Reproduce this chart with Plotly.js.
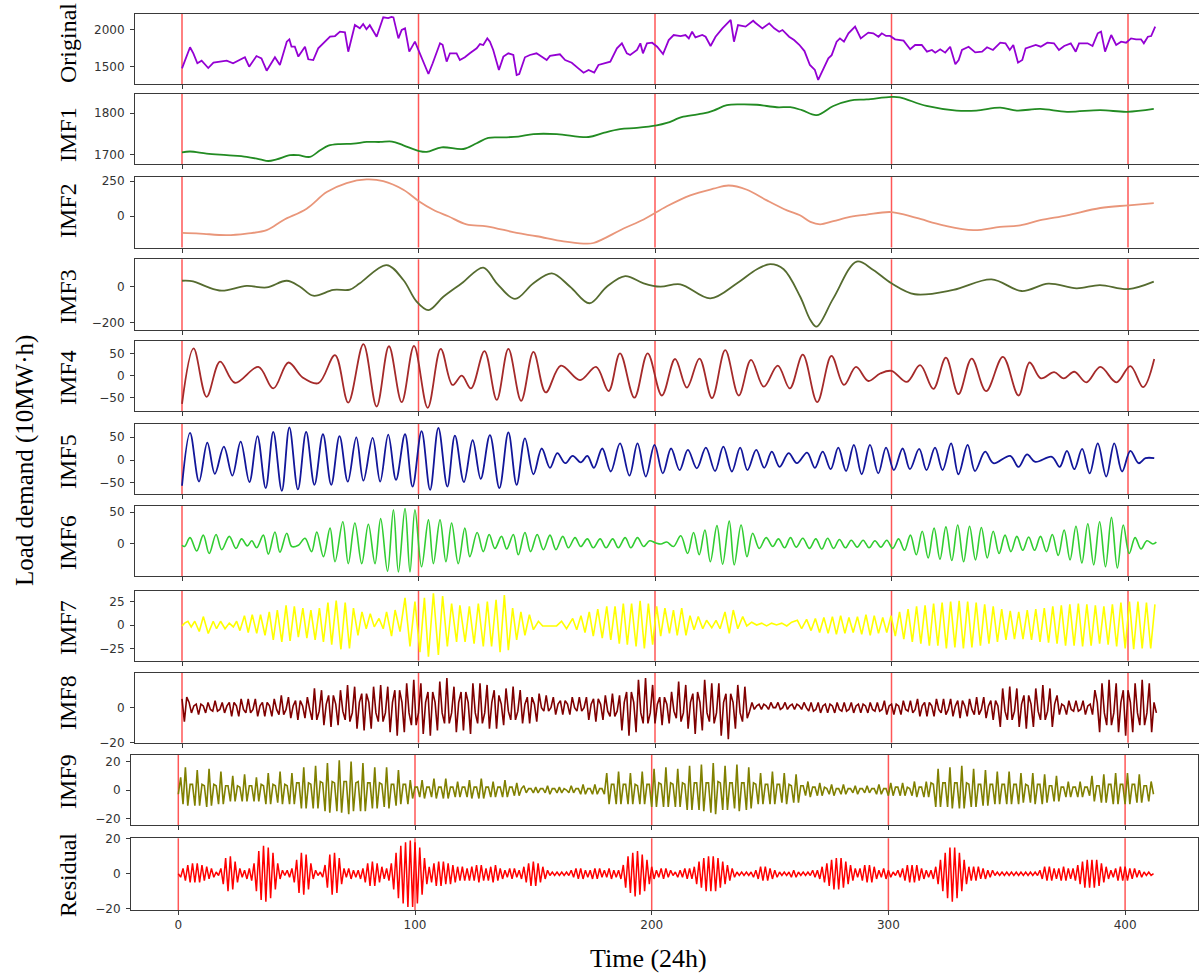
<!DOCTYPE html>
<html>
<head>
<meta charset="utf-8">
<script src="https://cdn.plot.ly/plotly-3.0.1.min.js"></script>
<style>html,body{margin:0;padding:0;background:#fff}#chart{width:1199px;height:974px}</style>
</head>
<body>
<div id="chart"></div>
<script>
// ---------------- DATA ----------------
const origX = [0,3.4,4.8,6.5,8.3,11.1,13.3,16.1,18.9,21.6,24.5,26.6,28.4,31.5,33.6,35.8,39.3,41.4,44.3,45.4,46.3,47.7,49.2,52.0,53.4,55.5,57.6,60.5,62.6,64.7,66.8,68.9,70.3,73.1,75.2,76.6,78.0,79.4,82.3,85.1,87.2,88.6,89.4,91.5,92.9,94.3,96.1,98.5,99.9,102.0,104.2,106.0,109.1,110.2,111.9,113.3,116.1,117.5,119.6,121.7,124.6,126.0,127.4,129.1,130.2,131.6,134.0,135.9,138.0,140.1,141.5,142.6,145.0,147.1,149.9,152.0,154.2,155.6,159.8,162.0,164.8,167.6,169.8,171.9,174.3,176.1,178.2,181.1,183.9,186.0,188.1,189.5,192.4,193.8,194.9,196.6,198.8,200.9,203.4,205.8,207.9,210.8,212.9,214.3,215.7,217.1,220.0,221.4,223.5,225.6,228.5,230.6,232.0,233.4,235.1,238.3,241.5,242.4,245.4,248.3,250.4,252.5,253.9,256.7,258.8,261.0,263.2,265.5,267.6,269.0,271.2,273.3,274.7,276.8,278.2,279.9,281.8,284.6,287.0,290.2,292.3,294.5,295.9,297.7,299.4,301.5,305.1,307.9,310.0,312.8,315.0,317.1,318.5,320.6,322.7,324.8,327.0,328.4,329.8,332.6,335.4,338.3,340.4,342.9,346.0,348.2,350.0,351.5,353.5,355.3,356.7,358.8,361.0,363.1,365.9,368.7,370.8,373.0,375.8,377.9,379.3,382.9,385.0,387.2,388.6,390.3,392.9,395.0,397.1,399.2,401.3,403.4,405.5,406.7,408.4,409.8,411.5];
const origY = [1482,1766,1685,1550,1585,1486,1558,1572,1585,1550,1594,1631,1504,1648,1617,1450,1631,1527,1842,1874,1774,1774,1640,1774,1604,1594,1752,1842,1909,1918,1977,1968,1707,2067,2022,2080,2010,2065,1909,2171,2160,2176,2170,1887,2000,2022,1707,1842,1730,1572,1405,1550,1820,1800,1572,1685,1685,1594,1631,1685,1752,1810,1797,1887,1842,1730,1460,1640,1685,1662,1392,1405,1631,1662,1685,1640,1594,1650,1671,1594,1558,1482,1423,1460,1423,1527,1550,1572,1752,1820,1685,1662,1730,1820,1685,1820,1828,1774,1675,1864,1932,1918,1932,1887,1977,1900,1932,1909,1784,1909,2022,2090,2135,1842,2067,2045,2125,2098,2022,2090,2022,1977,2000,1909,1864,1800,1715,1527,1460,1325,1482,1617,1660,1842,1887,1842,1955,2045,1887,1964,1955,1909,1955,1920,1920,1874,1856,1739,1797,1797,1707,1730,1694,1739,1694,1774,1536,1594,1730,1774,1698,1707,1766,1730,1828,1820,1730,1797,1558,1594,1752,1774,1797,1774,1828,1820,1730,1784,1820,1707,1820,1820,1784,1955,1977,1707,1932,1797,1842,1828,1887,1874,1874,1820,1909,1918,2045];

const imf1X = [0,3.4,10.4,18.9,27.3,33.0,36.5,40.0,45.7,49.2,54.1,58.4,61.9,66.8,72.5,78.2,83.8,88.8,93.6,100.3,103.5,109.8,119.0,124.6,129.5,135.9,142.2,148.6,158.5,171.9,178.2,185.2,192.3,200.7,205.0,212.0,220.5,224.7,230.4,236.0,243.1,251.5,257.2,262.1,268.3,275.4,282.4,289.5,300.0,303.5,314.8,327.5,335.9,346.0,353.0,362.9,374.2,388.3,399.6,410.9];
const imf1Y = [1705,1707,1702,1698,1694,1688,1684,1688,1698,1698,1694,1710,1721,1725,1726,1730,1730,1731,1722,1708,1706,1717,1713,1727,1740,1741,1743,1749,1749,1742,1752,1761,1764,1770,1776,1791,1799,1806,1819,1821,1820,1814,1814,1807,1795,1817,1830,1833,1839,1838,1817,1806,1806,1813,1806,1810,1803,1807,1803,1810];

const imf2X = [0,7.5,18.9,27.3,35.8,42.8,52.7,61.2,69.6,78.0,85.1,93.6,100.3,106.2,112.6,120.3,128.8,141.5,150.0,161.3,169.8,174.0,186.7,195.2,205.0,214.9,224.7,231.1,238.9,247.3,255.8,261.3,265.7,269.8,275.4,282.4,289.5,300.0,310.6,321.9,334.6,345.9,354.4,362.9,374.2,388.3,400.3,410.9];
const imf2Y = [-118,-123,-134,-123,-99,-28,54,172,236,262,250,189,106,47,0,-57,-71,-118,-142,-179,-194,-190,-87,-23,71,149,196,219,189,113,42,7,-40,-57,-35,-5,12,30,-12,-64,-99,-76,-64,-28,7,59,78,94];

const imf3X = [0,4.7,10.4,16.8,27.3,35.8,44.3,49.9,55.5,64.0,71.0,75.2,86.5,93.6,99.2,104.2,110.5,118.3,127.4,133.1,140.8,148.6,156.4,164.1,172.3,179.6,187.4,195.2,202.2,210.7,223.4,234.7,243.1,248.8,254.4,261.4,265.7,268.3,275.4,285.3,292.3,300.0,309.9,326.1,342.3,355.0,366.3,378.3,388.1,400.1,410.9];
const imf3Y = [33,30,0,-22,4,-4,33,0,-50,-18,-16,19,120,37,-83,-130,-56,19,106,19,-68,19,74,0,-92,0,59,19,0,13,-65,19,97,125,97,-56,-185,-222,-65,139,93,19,-42,-18,41,-24,17,-9,9,-13,28];

const imf4X = [0,4.9,10.4,16.1,22.4,32.3,38.6,45.0,51.0,57.7,64.7,70.3,76.7,82.3,87.5,92.9,98.1,103.9,109.4,114.4,118.3,122.2,127.9,133.1,138.0,143.4,148.6,153.8,160.2,168.3,175.1,180.4,185.2,191.3,196.9,202.9,208.5,213.5,218.8,224.1,229.7,235.4,240.6,246.0,251.9,257.0,262.5,268.6,274.6,279.9,285.0,290.2,295.2,300.0,306.5,312.1,317.7,323.0,328.3,333.9,340.0,347.1,353.7,358.4,363.2,368.8,372.8,377.3,382.4,388.3,395.1,401.0,406.4,411.1];
const imf4Y = [-64,62,-48,32,-16,20,-29,30,-4,-17,47,-61,72,-70,67,-60,68,-73,61,-21,0,-29,56,-55,61,-57,54,-38,23,-10,20,-35,51,-50,51,-45,38,-27,39,-51,58,-45,36,-25,23,-29,48,-60,45,-21,20,-12,5,11,-14,24,-30,41,-42,39,-35,43,-45,30,-6,8,-6,9,-15,20,-15,22,-26,38];

const imf5X = [0,3.4,7.2,10.7,13.9,17.7,21.3,24.8,28.5,31.9,35.4,38.6,42.2,45.4,49.0,52.5,56.0,59.6,63.1,66.6,70.1,73.7,76.7,80.6,83.8,87.2,90.5,94.3,97.5,101.3,104.9,108.4,112.2,115.4,119.2,122.9,126.3,130.2,134.2,138.0,141.5,145.0,148.6,152.1,155.6,158.7,162.0,165.2,168.6,171.4,174.2,177.7,181.3,185.2,189.2,192.6,196.1,199.8,203.3,206.8,210.4,213.9,217.7,221.5,225.4,228.9,232.5,236.0,239.1,242.8,246.2,249.4,252.7,256.5,260.0,264.3,267.6,270.9,274.3,277.5,280.8,284.1,287.4,290.9,294.4,297.7,301.0,304.7,307.8,311.7,314.8,318.4,321.6,325.2,328.3,332.2,335.3,339.6,343.1,350.2,353.7,357.3,360.8,367.8,371.1,374.2,377.3,380.6,383.8,387.2,390.8,394.2,397.5,401.0,404.5,407.4,411.1];
const imf5Y = [-56,59,-47,38,-30,29,-34,40,-48,52,-61,61,-67,71,-64,61,-54,56,-54,52,-47,49,-45,48,-47,55,-43,56,-58,63,-65,70,-58,53,-48,43,-41,54,-61,60,-54,47,-31,25,-17,15,-7,9,-5,9,-17,25,-25,36,-34,36,-36,33,-29,25,-22,22,-18,27,-24,29,-25,27,-22,22,-17,18,-15,15,-7,16,-17,18,-20,27,-24,33,-31,33,-29,27,-22,25,-20,24,-22,27,-22,36,-31,33,-24,18,-7,9,-15,12,-4,7,-15,20,-20,24,-29,36,-36,36,-25,20,-7,4,4];

const imf6X = [0,1.1,3.4,6.2,9.0,11.5,14.4,16.8,20.0,22.8,25.2,27.6,29.5,31.6,34.4,36.5,39.3,41.4,44.3,46.4,49.2,52.0,54.8,57.0,59.8,62.6,64.7,68.0,70.3,73.1,76.0,78.8,81.6,84.0,86.9,89.4,91.5,94.3,96.4,98.5,101.3,104.2,106.3,109.1,111.6,114.0,116.8,119.6,121.7,124.8,127.4,129.9,132.3,135.1,137.3,140.1,142.2,145.0,147.4,150.2,152.8,155.6,158.1,161.0,163.4,166.2,168.6,171.4,173.9,176.8,179.3,182.1,184.5,187.4,189.8,192.6,195.2,197.7,200.1,202.5,205.0,207.8,210.9,213.8,216.3,218.7,221.1,223.4,226.2,228.6,231.4,233.5,236.4,238.9,241.3,244.1,247.0,249.8,252.2,254.8,257.3,259.7,262.5,265.3,268,270.5,273,275.5,278,280.5,283,285.5,288,290.5,293,295.5,298,300.5,303,305.5,308,310.5,313,315.5,318,320.5,323,325.5,328,330.5,333,335.5,338,340.5,343,345.5,348,350.5,353,355.5,358,360.5,363,365.5,368,370.5,373,375.5,378,380.5,383,385.5,388,390.5,393,395.5,398,400.5,403,405.5,408,410.5,412];
const imf6Y = [-2,-4,10,-11,14,-15,15,-9,12,-7,8,-3,5,-6,14,-16,19,-13,17,-4,-2,9,-12,19,-20,25,-28,35,-31,33,-31,31,-31,40,-43,54,-44,56,-44,54,-36,38,-31,38,-28,33,-31,25,-20,18,-12,15,-7,12,-8,15,-17,18,-12,15,-9,14,-9,12,-6,10,-4,8,-6,8,-6,8,-6,10,-6,10,-4,5,2,0,3,-4,13,-15,18,-17,22,-28,29,-32,36,-33,30,-20,17,-7,10,-4,8,-6,10,-5,9,-7,8,-8,9,-7,7,-6,6,-5,6,-6,5,-5,6,-7,8,-10,14,-17,20,-22,25,-24,27,-26,30,-28,28,-25,26,-22,20,-15,14,-12,12,-10,11,-10,12,-12,15,-18,22,-25,28,-30,32,-33,35,-36,42,-38,30,-15,10,-8,5,0,3];

const imf7X = [0,1.1,2.5,3.9,5.4,7.3,9.0,11.1,13.2,14.6,16.3,18.2,20.0,21.7,23.1,24.5,26.4,28.0,29.7,31.6,33.2,35.1,36.9,38.6,40.3,42.2,44.0,45.7,47.5,49.2,51.1,52.8,54.5,56.3,58.1,59.8,61.7,63.3,65.2,67.2,69.0,70.8,72.5,74.4,76.1,77.9,79.6,81.3,83.3,85.1,86.5,88.6,90.1,92.2,94.3,96.4,98.5,100.6,102.5,104.2,106.3,108.4,110.2,112.2,114.0,116.1,117.5,119.7,121.5,123.5,125.3,127.4,129.1,130.9,132.8,134.5,136.3,138.0,139.8,141.5,143.3,145.0,146.9,148.6,150.7,152.5,158.4,160.5,162.6,165.2,166.9,168.7,170.4,172.2,173.9,175.8,177.7,179.6,181.3,183.1,184.9,186.6,188.3,190.1,192.0,193.7,195.5,197.2,199.0,200.7,202.4,204.2,206.1,207.8,209.4,211.3,213.1,214.8,216.5,218.3,220.2,221.8,224.0,225.8,227.5,229.6,231.4,233.1,235.0,237.1,238.8,240.9,243.0,245.1,247.2,249.3,251.4,253.6,255.7,257.8,260.2,262.0,264.1,266,267.8,269.6,271.4,273.2,275,276.7,278.5,280.3,282,283.8,285.6,287.4,289.2,291,292.7,294.5,296.3,298,299.8,301.6,303.4,305.2,307,308.8,310.6,312.4,314.2,316,317.8,319.6,321.4,323.2,325,326.8,328.6,330.4,332.2,334,335.8,337.6,339.4,341.2,343,344.8,346.6,348.4,350.2,352,353.8,355.6,357.4,359.2,361,362.8,364.6,366.4,368.2,370,371.8,373.6,375.4,377.2,379,380.8,382.6,384.4,386.2,388,389.8,391.6,393.4,395.2,397,398.8,400.6,402.4,404.2,406,407.8,409.6,411.4];
const imf7Y = [-1,2,4,-2,4,-7,9,-9,4,-4,4,-4,2,-2,4,-6,10,-8,11,-9,11,-11,14,-16,16,-18,21,-17,20,-13,18,-14,16,-16,18,-18,24,-21,26,-26,24,-25,18,-11,14,-4,12,-2,7,-4,14,-12,16,-7,29,-23,25,-29,29,-34,34,-32,31,-23,23,-18,21,-18,20,-20,23,-23,25,-23,27,-29,32,-27,18,-16,14,-11,11,-5,4,-1,-1,4,-4,7,-5,10,-8,14,-12,17,-14,20,-16,20,-20,23,-21,23,-23,26,-25,23,-21,20,-12,18,-9,16,-11,18,-11,10,-5,9,-4,5,-3,5,-4,14,-9,16,-4,9,-1,3,0,2,-1,2,0,2,-1,3,5,-4,6,-6,7,-8,8,-9,9,-10,10,-9,8,-8,9,-10,11,-11,10,-9,8,-8,10,-12,14,-15,17,-18,20,-20,21,-22,23,-22,24,-25,25,-24,26,-25,25,-24,24,-22,22,-20,20,-18,17,-16,15,-15,14,-15,16,-16,17,-18,18,-19,20,-20,21,-22,22,-22,23,-23,22,-22,21,-20,20,-21,22,-23,24,-25,25,-26,25,-25,24,-25,22];

// daily values, day 0 .. 412
const imf8Y = [5,-8,6,3,-3,1,2,-4,2,1,-3,3,-1,-2,4,-2,-1,3,-3,1,3,-5,3,1,-5,5,-1,-3,5,-3,-1,5,-5,1,3,-5,3,1,-5,5,-1,-4,7,-4,-1,6,-6,1,4,-7,4,1,-6,6,-1,-7,11,-7,-2,10,-10,2,7,-11,7,2,-10,10,-2,-7,13,-8,-3,12,-12,3,8,-13,8,3,-12,12,-3,-8,13,-8,-3,12,-14,3,10,-16,10,3,-14,14,-3,-10,16,-10,-3,14,-15,3,9,-16,9,3,-13,15,-3,-9,17,-9,-3,12,-14,3,9,-13,9,3,-15,14,-3,-9,14,-9,-3,13,-12,3,10,-12,7,2,-10,11,-2,-7,12,-7,-2,10,-9,2,6,-9,6,2,-8,8,0,-2,7,-2,0,6,-4,2,4,-4,4,2,-4,6,0,-2,6,-2,0,6,-7,2,5,-8,5,2,-7,7,-2,-5,8,-5,-2,7,-13,3,9,-16,9,3,-14,16,-3,-9,17,-9,-3,13,-9,2,6,-10,6,2,-9,9,-2,-6,15,-8,-3,13,-12,3,8,-15,9,3,-13,16,-3,-8,14,-9,-3,14,-16,3,8,-18,8,3,-12,13,-3,-8,12,-6,-2,3,-1,1,2,-1,2,1,-1,3,0,0,3,-1,0,3,-1,1,2,-1,2,1,-1,3,0,-2,3,-2,-1,3,-3,1,2,-3,2,1,-3,3,-1,-2,3,-2,-1,3,-3,1,2,-3,2,1,-3,3,-1,-2,3,-2,-1,4,-4,1,2,-4,2,1,-4,4,-1,-2,4,-3,-1,5,-5,1,3,-5,3,1,-5,5,-1,-3,5,-4,-1,5,-5,1,4,-6,4,1,-5,5,-1,-4,6,-4,-1,6,-6,1,4,-7,4,1,-11,11,-2,-7,12,-7,-2,11,-11,2,7,-12,7,2,-11,11,-2,-7,13,-7,-2,11,-11,2,7,-4,2,1,-4,4,-1,-2,4,-2,-1,4,-4,1,2,-4,10,3,-14,14,-3,-10,16,-10,-3,14,-14,3,10,-16,10,3,-14,14,-3,-10,16,-10,-3,14,-14,3,-3];

const imf9Y = [-3,9,-10,16,-11,4,4,-11,14,-11,4,3,-12,15,-11,4,3,-10,13,-10,3,3,-8,10,-8,3,2,-8,11,-8,3,3,-8,9,-8,4,3,-10,12,-10,4,3,-9,13,-10,4,3,-10,12,-10,5,5,-13,16,-13,5,4,-13,17,-13,6,5,-15,19,-16,6,5,-15,21,-16,6,6,-17,20,-15,5,6,-15,19,-15,5,5,-13,16,-13,5,4,-12,16,-13,4,4,-11,14,-10,4,4,-10,7,-6,2,2,-5,7,-6,2,2,-5,8,-6,2,2,-6,8,-6,2,2,-5,6,-5,2,2,-5,7,-6,2,2,-6,8,-6,2,2,-5,6,-5,2,2,-5,7,-5,2,2,-4,5,-4,1,3,-2,1,1,-2,2,-2,1,1,-2,3,-3,1,1,-2,2,-2,1,0,-2,3,-2,1,1,-3,4,-3,1,1,-3,4,-3,1,1,-3,12,-10,4,4,-10,13,-10,4,4,-10,12,-10,4,3,-10,13,-10,4,4,-12,15,-12,5,4,-12,16,-12,5,4,-12,15,-12,5,4,-14,17,-14,5,5,-14,18,-15,5,5,-16,19,-17,6,5,-14,17,-14,5,5,-13,18,-15,5,5,-14,16,-13,5,4,-10,12,-10,4,4,-10,13,-10,4,4,-9,12,-10,4,3,-9,11,-9,3,3,-4,6,-5,2,2,-4,5,-4,2,1,-3,4,-4,1,1,-3,4,-3,1,1,-2,3,-3,1,1,-2,3,-2,1,1,-3,4,-3,1,1,-4,5,-4,2,2,-4,5,-4,2,1,-4,6,-5,2,2,-5,6,-5,5,4,-12,15,-12,5,5,-12,16,-13,5,5,-13,17,-13,5,4,-12,15,-12,4,4,-11,14,-11,4,4,-10,13,-10,4,4,-10,13,-10,4,4,-10,12,-9,4,3,-9,12,-10,4,4,-10,11,-9,3,3,-8,10,-8,2,2,-5,6,-5,2,2,-5,6,-5,2,2,-4,10,-8,3,3,-9,11,-9,4,4,-10,12,-10,4,4,-10,12,-10,4,4,-9,11,-9,3,3,-8,6,-3];

const residY = [0,-2,3,-4,5,-5,6,-5,6,-5,5,-4,4,-3,3,-2,1,-1,3,-6,9,-10,10,-9,7,-5,3,-2,2,-3,3,-4,6,-10,13,-15,16,-16,15,-14,12,-9,6,-3,2,-1,2,-2,3,-5,8,-11,12,-12,11,-9,6,-3,2,-1,1,-2,5,-8,11,-12,12,-11,9,-6,3,-2,3,-3,2,-2,2,-3,3,-5,6,-7,7,-7,6,-5,4,-3,3,-4,6,-9,12,-14,16,-17,18,-19,19,-19,18,-17,15,-12,9,-6,4,-5,6,-7,7,-7,7,-6,6,-6,5,-5,4,-4,4,-4,3,-4,4,-4,5,-5,5,-4,3,-4,4,-5,5,-4,3,-3,2,-2,3,-3,3,-2,2,-3,4,-5,6,-7,7,-7,6,-5,4,-3,2,-1,1,-1,1,-1,1,-1,1,-1,2,-2,3,-3,3,-3,2,-2,2,-3,3,-3,3,-2,2,-2,3,-3,2,-2,2,-3,5,-8,10,-11,12,-13,13,-12,11,-10,8,-6,4,-3,2,-2,3,-3,3,-2,2,-1,1,-2,2,-2,3,-3,3,-3,4,-6,7,-8,9,-10,10,-10,10,-10,9,-8,7,-6,5,-4,3,-2,1,-1,1,-1,1,-1,1,-2,2,-3,4,-4,4,-4,3,-3,2,-2,1,-1,1,-1,1,-2,2,-2,1,-1,1,-1,1,-1,2,-2,2,-3,4,-5,6,-7,8,-9,9,-9,9,-8,7,-6,5,-4,3,-2,3,-4,5,-5,5,-5,4,-3,2,-2,3,-3,2,-2,1,-1,2,-2,3,-4,5,-5,5,-5,5,-4,3,-3,2,-2,2,-3,4,-6,8,-10,12,-14,15,-16,15,-14,12,-10,8,-6,4,-4,4,-4,4,-3,3,-3,2,-2,2,-1,1,-1,1,-1,1,-1,1,-1,1,-1,1,-1,1,-1,1,-1,1,-1,2,-3,4,-4,4,-4,3,-3,3,-4,4,-4,3,-3,3,-4,5,-6,7,-8,8,-8,8,-8,8,-7,6,-5,4,-3,2,-2,3,-4,4,-4,4,-4,3,-3,3,-2,2,-2,1,-1,1,-1,0];

const xTicks = [0, 100, 200, 300, 400];
const panelNames = ['Original','IMF1','IMF2','IMF3','IMF4','IMF5','IMF6','IMF7','IMF8','IMF9','Residual'];
const yTicks = [[1500,2000],[1700,1800],[0,250],[-200,0],[-50,0,50],[-50,0,50],[0,50],[-25,0,25],[-20,0],[-20,0,20],[-20,0,20]];

// ---------------- LAYOUT / STYLE ----------------
const W = 1199, H = 974;
const days = imf8Y.map((_, i) => i);
const series = [
  {x: origX, y: origY}, {x: imf1X, y: imf1Y}, {x: imf2X, y: imf2Y}, {x: imf3X, y: imf3Y},
  {x: imf4X, y: imf4Y}, {x: imf5X, y: imf5Y}, {x: imf6X, y: imf6Y}, {x: imf7X, y: imf7Y},
  {x: days, y: imf8Y}, {x: imf9Y.map((_, i) => i), y: imf9Y}, {x: residY.map((_, i) => i), y: residY}
];
const style = [
  {color:'#9400d3', shape:'linear', w:1.8, top:14,    bottom:84.3,  yr:[1266,2216],   lab:43},
  {color:'#228b22', shape:'spline', w:1.8, top:94,    bottom:164.3, yr:[1676,1846],   lab:135},
  {color:'#e9967a', shape:'spline', w:1.8, top:176.5, bottom:247.5, yr:[-222,283],    lab:211},
  {color:'#556b2f', shape:'spline', w:1.8, top:259.3, bottom:330.3, yr:[-242,152],    lab:297},
  {color:'#a52a2a', shape:'spline', w:1.8, top:341,   bottom:411,   yr:[-80.2,78.9],  lab:378},
  {color:'#12169a', shape:'spline', w:1.8, top:424,   bottom:494.3, yr:[-74.6,78.3],  lab:462},
  {color:'#32cd32', shape:'spline', w:1.6, top:506,   bottom:576,   yr:[-50.5,59.9],  lab:543},
  {color:'#ffff00', shape:'linear', w:1.6, top:590.7, bottom:660.7, yr:[-38.2,36.7],  lab:628},
  {color:'#800000', shape:'linear', w:1.6, top:672.7, bottom:742.7, yr:[-20.05,20],   lab:703},
  {color:'#808000', shape:'linear', w:1.6, top:755,   bottom:825,   yr:[-24.7,24.7],  lab:782, bottomGroup:true},
  {color:'#ff0000', shape:'linear', w:1.5, top:838.3, bottom:910,   yr:[-20.8,20.3],  lab:875, bottomGroup:true}
];

const traces = [];
const layout = {
  width: W, height: H,
  margin: {l:0, r:0, t:0, b:0},
  paper_bgcolor: '#fff', plot_bgcolor: '#fff',
  showlegend: false,
  font: {family: 'DejaVu Sans', size: 12, color: '#333'},
  annotations: [], shapes: []
};
const fmt = v => (v < 0 ? '\u2212' + Math.abs(v) : String(v));

series.forEach((s, i) => {
  const st = style[i];
  const n = i + 1;
  const xa = 'xaxis' + (n === 1 ? '' : n), ya = 'yaxis' + (n === 1 ? '' : n);
  const xr = 'x' + (n === 1 ? '' : n), yr = 'y' + (n === 1 ? '' : n);
  const left = st.bottomGroup ? 131 : 135;
  const right = st.bottomGroup ? 1198 : 1199;
  const x0px = st.bottomGroup ? 178.3 : 182;
  const ppu = st.bottomGroup ? 2.367 : 2.365;
  traces.push({
    x: s.x, y: s.y, xaxis: xr, yaxis: yr, type: 'scatter', mode: 'lines',
    line: {color: st.color, width: st.w, shape: st.shape, smoothing: 1},
    hoverinfo: 'skip', cliponaxis: true
  });
  xTicks.forEach(t => layout.shapes.push({
    type: 'line', xref: xr, yref: yr + ' domain', x0: t, x1: t, y0: 0, y1: 1,
    line: {color: 'rgba(255,45,45,0.8)', width: 1.5}, layer: 'below'
  }));
  layout[xa] = {
    domain: [left / W, right / W],
    range: [(left - x0px) / ppu, (right - x0px) / ppu],
    anchor: yr,
    showline: true, mirror: true, linecolor: '#3a3a3a', linewidth: 1,
    ticks: 'outside', ticklen: 4, tickcolor: '#3a3a3a', tickwidth: 1,
    tickmode: 'array', tickvals: xTicks, ticktext: xTicks.map(String),
    showticklabels: n === 11,
    tickfont: {family: 'DejaVu Sans', size: 12, color: '#333'},
    showgrid: false, zeroline: false, fixedrange: true
  };
  layout[ya] = {
    domain: [1 - st.bottom / H, 1 - st.top / H],
    range: st.yr, anchor: xr,
    showline: true, mirror: !!st.bottomGroup, linecolor: '#3a3a3a', linewidth: 1,
    ticks: 'outside', ticklen: 4, tickcolor: '#3a3a3a', tickwidth: 1,
    tickmode: 'array', tickvals: yTicks[i], ticktext: yTicks[i].map(fmt),
    tickfont: {family: 'DejaVu Sans', size: 12, color: '#333'},
    ticklabelstandoff: 3,
    showgrid: false, zeroline: false, fixedrange: true
  };
  layout.annotations.push({
    text: panelNames[i], xref: 'paper', yref: 'paper',
    x: 68 / W, y: 1 - st.lab / H, xanchor: 'center', yanchor: 'middle',
    textangle: -90, showarrow: false,
    font: {family: 'Liberation Serif', size: 24, color: '#000'}
  });
});

layout.annotations.push({
  text: 'Load demand (10MW\u00b7h)', xref: 'paper', yref: 'paper',
  x: 25 / W, y: 1 - 461 / H, xanchor: 'center', yanchor: 'middle',
  textangle: -90, showarrow: false,
  font: {family: 'Liberation Serif', size: 25, color: '#000'}
});
layout.annotations.push({
  text: 'Time (24h)', xref: 'paper', yref: 'paper',
  x: 648 / W, y: 1 - 958 / H, xanchor: 'center', yanchor: 'middle',
  showarrow: false,
  font: {family: 'Liberation Serif', size: 26, color: '#000'}
});

Plotly.newPlot('chart', traces, layout, {staticPlot: true, displayModeBar: false});
</script>
</body>
</html>
